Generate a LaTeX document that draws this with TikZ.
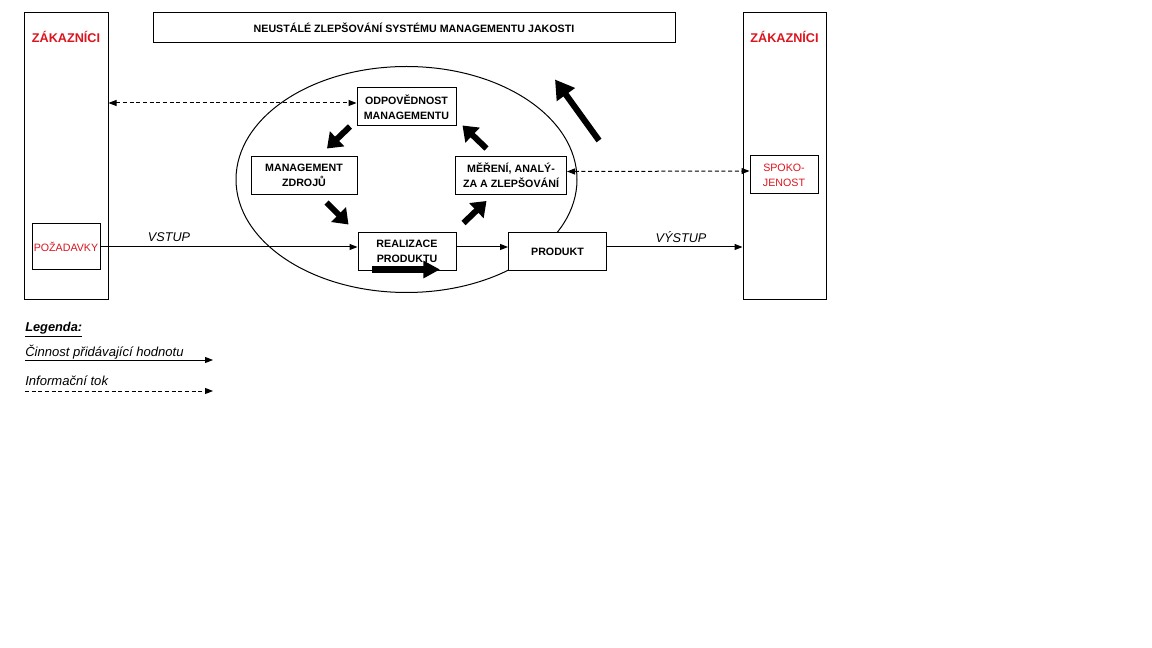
\documentclass[tikz,border=0pt]{standalone}
\usepackage{fontspec}
\setmainfont{Liberation Sans}
\usetikzlibrary{arrows.meta,calc}
\definecolor{custred}{RGB}{220,20,30}
\begin{document}
\begin{tikzpicture}[x=0.75pt,y=-0.75pt,
  box/.style={draw,fill=white,line width=0.75pt,inner sep=0pt,align=center,
    font=\fontsize{8}{11}\selectfont\bfseries},
  redtext/.style={text=custred},
  flow/.style={line width=0.75pt,-{Triangle[length=6pt,width=4.5pt]}},
  info/.style={line width=0.75pt,dash pattern=on 3pt off 2pt,
    {Triangle[length=6pt,width=4.5pt]}-{Triangle[length=6pt,width=4.5pt]}},
  fat/.style={line width=4.5pt,-{Triangle[length=10.5pt,width=15pt]}},
  label/.style={font=\fontsize{9.5}{11}\selectfont\itshape,inner sep=0pt},
  legtext/.style={anchor=base west,inner sep=0pt,font=\fontsize{9.8}{11}\selectfont\itshape},
]
\useasboundingbox (0,0) rectangle (1152,648);

% customers on both sides
\node[box,minimum width=84*0.75pt,minimum height=287*0.75pt] (leftcust) at (66,156.5) {};
\node[box,minimum width=83*0.75pt,minimum height=287*0.75pt] (rightcust) at (784.5,156.5) {};
\node[redtext,font=\fontsize{9.5}{11}\selectfont\bfseries] (lcname) at (66,37) {ZÁKAZNÍCI};
\node[redtext,font=\fontsize{9.5}{11}\selectfont\bfseries] (rcname) at (784.5,37) {ZÁKAZNÍCI};

% heading bar
\node[box,minimum width=522*0.75pt,minimum height=30*0.75pt] (title) at (414,28)
  {NEUSTÁLÉ ZLEPŠOVÁNÍ SYSTÉMU MANAGEMENTU JAKOSTI};

% process loop
\draw[line width=0.75pt] (406.5,179.5) ellipse [x radius=170.5*0.75pt, y radius=113*0.75pt];

\node[box,redtext,font=\fontsize{8}{9.5}\selectfont,minimum width=68*0.75pt,minimum height=46*0.75pt] (pozad) at (66,247) {POŽADAVKY};
\node[box,redtext,font=\fontsize{8}{11}\selectfont,minimum width=68*0.75pt,minimum height=38*0.75pt] (spok) at (784,175) {SPOKO-\\JENOST};

\node[box,minimum width=99*0.75pt,minimum height=38*0.75pt] (odp) at (406.5,107) {ODPOVĚDNOST\\MANAGEMENTU};
\node[box,minimum width=106*0.75pt,minimum height=38*0.75pt] (mz) at (304,175.5) {MANAGEMENT\\ZDROJŮ};
\node[box,minimum width=111*0.75pt,minimum height=38*0.75pt] (mer) at (511,175.5) {MĚŘENÍ, ANALÝ-\\ZA A ZLEPŠOVÁNÍ};
\node[box,minimum width=98*0.75pt,minimum height=38*0.75pt] (real) at (407,251.5) {REALIZACE\\PRODUKTU};
\node[box,minimum width=98*0.75pt,minimum height=38*0.75pt] (prod) at (557.5,251.5) {PRODUKT};

% value-adding flow
\draw[flow] (pozad.east) -- (real.west |- pozad.east);
\draw[flow] ($(real.east)+(0,-4.5)$) -- ($(prod.west)+(0,-4.5)$);
\draw[flow] ($(prod.east)+(0,-4.5)$) -- (rightcust.west |- pozad.east);
\node[label] (vstup) at (169,237) {VSTUP};
\node[label] (vystup) at (681,237) {VÝSTUP};

% information flow
\draw[info] (leftcust.east |- 0,103) -- ($(odp.west)+(0,-4)$);
\draw[info] ($(mer.east)+(0,-4)$) -- ($(spok.west)+(0,-4)$);

% loop arrows
\draw[fat] ($(odp.south)+(-56.5,0)$) -- ++(-23,22);
\draw[fat] ($(mz.south)+(22.5,7.5)$) -- ++(22,22);
\draw[fat] ($(real.north)+(56.5,-9)$) -- ++(23,-22);
\draw[fat] ($(mer.north)+(-24.5,-7.5)$) -- ++(-24,-23);
\draw[line width=4.6pt,-{Triangle[length=14pt,width=16pt]}] ($(mer.north)+(88,-15.5)$) -- ++(-44,-61);
\draw[line width=4.6pt,-{Triangle[length=12.5pt,width=12.5pt]}] ($(real.south)+(-35,-1.5)$) -- ++(68,0);

% legend
\node[anchor=base west,inner sep=0pt,font=\fontsize{9.6}{11}\selectfont\bfseries\itshape] (leg) at (25,332) {\underline{Legenda:}};
\node[legtext] (leg1) at (25,356) {Činnost přidávající hodnotu};
\coordinate (l1a) at (25,360);
\coordinate (l1b) at (213,360);
\draw[flow] (l1a) -- (l1b);
\node[legtext] (leg2) at (25,385) {Informační tok};
\coordinate (l2a) at (25,391);
\coordinate (l2b) at (213,391);
\draw[line width=0.75pt,dash pattern=on 3pt off 2pt,-{Triangle[length=6pt,width=4.5pt]}] (l2a) -- (l2b);
\end{tikzpicture}
\end{document}
